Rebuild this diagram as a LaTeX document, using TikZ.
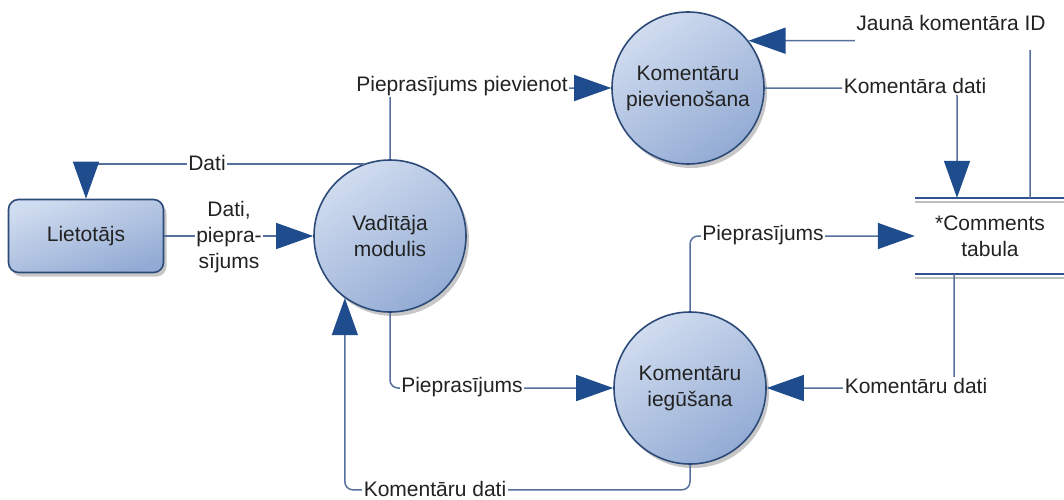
\documentclass[tikz,border=0pt]{standalone}
\usepackage{fontspec}
\setmainfont{Liberation Sans}
\usetikzlibrary{arrows.meta,shadows}

\definecolor{rim}{HTML}{2C4A78}
\definecolor{flowc}{HTML}{55719B}
\definecolor{tipc}{HTML}{1E4C8C}
\definecolor{storec}{HTML}{2F5392}
\definecolor{inkc}{HTML}{222222}
\definecolor{fillA}{HTML}{D0DCEF}
\definecolor{fillB}{HTML}{93ABD4}

\begin{document}
\begin{tikzpicture}[x=1pt,y=-1pt,
  font=\fontsize{21}{26}\selectfont, text=inkc,
  process/.style={circle, draw=rim, line width=1.6pt, minimum size=152pt,
    inner sep=0pt, align=center, top color=fillA, bottom color=fillB,
    shading angle=35,
    drop shadow={shadow xshift=3pt, shadow yshift=-4pt, fill=black, opacity=0.22}},
  entity/.style={rectangle, rounded corners=10pt, draw=rim, line width=1.6pt,
    minimum width=155pt, minimum height=73pt, top color=fillA, bottom color=fillB,
    shading angle=20,
    drop shadow={shadow xshift=3pt, shadow yshift=-4pt, fill=black, opacity=0.22}},
  datastore/.style={minimum width=150pt, minimum height=76pt, align=center, inner sep=0pt},
  flow/.style={draw=flowc, line width=1.5pt, rounded corners=8pt,
    -{Triangle[length=37pt,width=26pt,color=tipc,fill=tipc]}},
  lbl/.style={fill=white, inner sep=1.5pt, align=center}]

\useasboundingbox (0,0) rectangle (1064,499);

% processes, external entity and data store
\node[entity]  (lie) at (86,236)  {Lietotājs};
\node[process] (vad) at (390,236) {Vadītāja\\modulis};
\node[process] (pie) at (688,88)  {Komentāru\\pievienošana};
\node[process] (ieg) at (690,388) {Komentāru\\iegūšana};
\node[datastore] (tab) at (990,236) {*Comments\\tabula};

% data store rails with their soft shadow
\draw[black!25, line width=2pt] ([yshift=-4pt]tab.north west) -- ([yshift=-4pt]tab.north east);
\draw[black!25, line width=2pt] ([yshift=-4pt]tab.south west) -- ([yshift=-4pt]tab.south east);
\draw[storec, line width=2.2pt] (tab.north west) -- (tab.north east);
\draw[storec, line width=2.2pt] (tab.south west) -- (tab.south east);

% data flows
\draw[flow] (lie.east) -- (vad.west);
\draw[flow, rounded corners=0pt] (vad.110) -| (lie.north);
\draw[flow] (vad.north) |- (pie.west);
\draw[flow] (pie.east) -| ([xshift=-33pt]tab.north);
\draw[flow] ([xshift=40pt]tab.north) |- (pie.38);
\draw[flow] (ieg.north) |- (tab.west);
\draw[flow] ([xshift=-36pt]tab.south) |- (ieg.east);
\draw[flow] (vad.south) |- (ieg.west);
\draw[flow] (ieg.south) -- ++(0,25) -| (vad.234);

% flow labels
\node[lbl] at (229,237) {Dati,\\piepra-\\sījums};
\node[lbl] at (207,163) {Dati};
\node[lbl] at (462,86)  {Pieprasījums pievienot};
\node[lbl] at (915,86)  {Komentāra dati};
\node[lbl, anchor=north, text depth=18pt] at (951,14) {Jaunā komentāra ID};
\node[lbl] at (763,235) {Pieprasījums};
\node[lbl] at (916,386) {Komentāru dati};
\node[lbl] at (462,387) {Pieprasījums};
\node[lbl] at (435,489) {Komentāru dati};
\end{tikzpicture}
\end{document}
